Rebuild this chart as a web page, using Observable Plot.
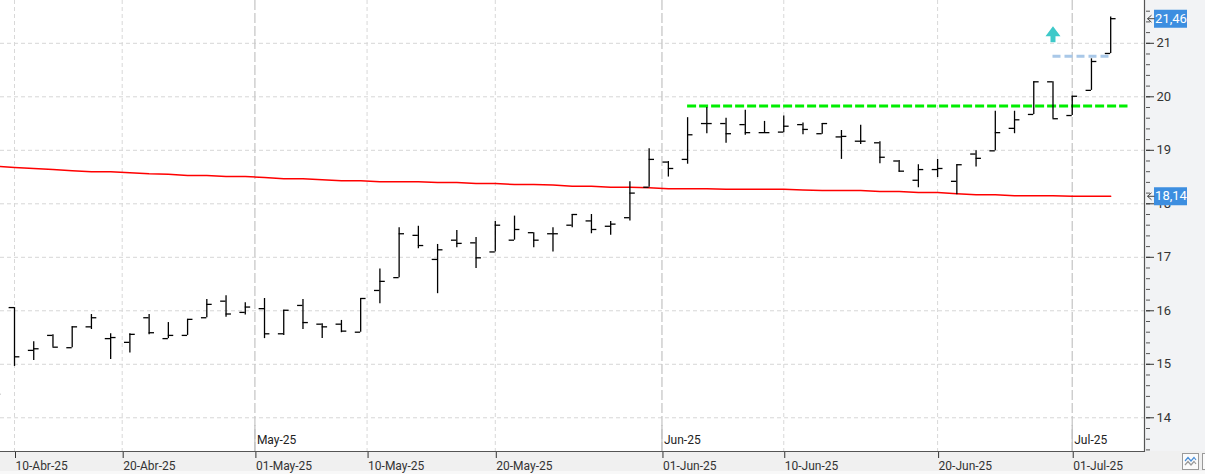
<!DOCTYPE html>
<html><head><meta charset="utf-8">
<script src="https://cdn.jsdelivr.net/npm/d3@7"></script>
<script src="https://cdn.jsdelivr.net/npm/@observablehq/plot@0.6"></script>
<style>
html,body{margin:0;padding:0;background:#fff;overflow:hidden}
#chart svg{display:block}
</style></head><body><div id="chart"></div>
<script>
// ---- data (trading days) ----
const dates = ["2025-04-09","2025-04-10","2025-04-11","2025-04-14","2025-04-15","2025-04-16","2025-04-17","2025-04-22","2025-04-23","2025-04-24","2025-04-25","2025-04-28","2025-04-29","2025-04-30","2025-05-02","2025-05-05","2025-05-06","2025-05-07","2025-05-08","2025-05-09","2025-05-12","2025-05-13","2025-05-14","2025-05-15","2025-05-16","2025-05-19","2025-05-20","2025-05-21","2025-05-22","2025-05-23","2025-05-26","2025-05-27","2025-05-28","2025-05-29","2025-05-30","2025-06-02","2025-06-03","2025-06-04","2025-06-05","2025-06-06","2025-06-09","2025-06-10","2025-06-11","2025-06-12","2025-06-13","2025-06-16","2025-06-17","2025-06-18","2025-06-19","2025-06-20","2025-06-23","2025-06-24","2025-06-25","2025-06-26","2025-06-27","2025-06-30","2025-07-01","2025-07-02","2025-07-03"];
const opens  = [14.44,16.06,15.26,15.54,15.31,15.70,15.48,15.41,15.87,15.48,15.54,15.87,16.18,15.97,16.04,15.57,16.10,15.75,15.75,15.60,16.38,16.62,17.41,16.96,17.32,17.27,17.10,17.32,17.46,17.44,17.60,17.68,17.58,17.74,18.31,18.78,18.83,19.50,19.50,19.48,19.33,19.34,19.48,19.31,19.25,19.17,19.14,18.80,18.44,18.64,18.42,18.93,18.99,19.41,19.67,20.28,19.65,20.12,20.81];
const highs  = [14.44,16.06,15.42,15.55,15.70,15.93,15.57,15.57,15.93,15.78,15.84,16.21,16.28,16.15,16.23,16.01,16.21,15.76,15.82,16.23,16.78,17.55,17.58,17.24,17.50,17.37,17.67,17.77,17.46,17.55,17.80,17.80,17.67,18.41,19.03,18.79,19.61,19.80,19.60,19.75,19.54,19.64,19.51,19.50,19.37,19.47,19.16,18.81,18.73,18.83,18.73,18.99,19.73,19.73,20.28,20.28,20.01,20.71,21.49];
const lows   = [14.44,14.96,15.07,15.32,15.31,15.65,15.09,15.21,15.55,15.48,15.54,15.87,15.88,15.92,15.48,15.54,15.65,15.48,15.59,15.60,16.13,16.62,17.16,16.32,17.18,16.79,17.10,17.32,17.18,17.10,17.55,17.44,17.41,17.68,18.31,18.50,18.74,19.31,19.13,19.28,19.32,19.33,19.29,19.30,18.83,19.11,18.75,18.59,18.30,18.49,18.17,18.69,18.99,19.31,19.67,19.59,19.65,20.12,20.81];
const closes = [14.44,15.14,15.29,15.32,15.70,15.87,15.50,15.56,15.59,15.54,15.84,16.12,15.94,16.07,15.57,16.01,15.78,15.70,15.62,16.23,16.55,17.44,17.22,17.14,17.26,16.99,17.60,17.52,17.32,17.44,17.80,17.52,17.62,18.20,18.83,18.66,19.29,19.50,19.31,19.33,19.33,19.45,19.39,19.50,19.26,19.17,18.87,18.61,18.64,18.66,18.73,18.85,19.33,19.57,20.28,19.59,20.01,20.66,21.46];
const movingAvg = [18.70,18.68,18.66,18.64,18.62,18.60,18.60,18.58,18.56,18.55,18.53,18.53,18.51,18.51,18.49,18.47,18.47,18.45,18.43,18.43,18.41,18.41,18.41,18.40,18.40,18.38,18.38,18.36,18.36,18.35,18.33,18.33,18.31,18.31,18.30,18.28,18.28,18.28,18.27,18.27,18.27,18.27,18.26,18.25,18.25,18.25,18.23,18.23,18.21,18.21,18.19,18.17,18.17,18.15,18.15,18.15,18.14,18.14,18.14];

// ---- axis ticks ----
const tickDates  = ["2025-04-10","2025-04-20","2025-05-01","2025-05-10","2025-05-20","2025-06-01","2025-06-10","2025-06-20","2025-07-01"];
const tickLabels = ["10-Abr-25","20-Abr-25","01-May-25","10-May-25","20-May-25","01-Jun-25","10-Jun-25","20-Jun-25","01-Jul-25"];
const monthDates  = ["2025-05-01","2025-06-01","2025-07-01"];
const monthLabels = ["May-25","Jun-25","Jul-25"];
const yMajorTicks = [14,15,16,17,18,19,20,21];

// ---- annotations ----
const resistanceLevel = 19.83, resistanceStart = "2025-06-03", resistanceExtend = 0.9;
const targetLevel = 20.76, targetStart = "2025-06-30", targetEnd = "2025-07-03";
const arrowDate = "2025-06-30", arrowValue = 21.17;

// ---- build ----
const parse = d3.utcParse("%Y-%m-%d");
const bars = dates.map((d,i)=>({i, date: parse(d), open: opens[i], high: highs[i], low: lows[i], close: closes[i], ma: movingAvg[i]}));
const tms = bars.map(b=>+b.date);
function dateToIndex(s){
  const t = +parse(s);
  for (let k=0;k<tms.length-1;k++){
    if (t>=tms[k] && t<=tms[k+1]) return k + (t-tms[k])/(tms[k+1]-tms[k]);
  }
  return NaN;
}
const xTicks = tickDates.map(dateToIndex);
const labelOf = new Map(xTicks.map((v,k)=>[v, tickLabels[k]]));
const monthX = monthDates.map(dateToIndex);
const dayX = xTicks.filter(v=>!monthX.includes(v));
const minorTicks = d3.range(67, 109).map(k=>k/5);
const last = bars[bars.length-1];
const priceLabels = [{value: last.close}, {value: last.ma}];
const fmt = v => v.toFixed(2).replace(".", ",");
const tk = 0.28;

const arrowSymbol = {draw(ctx){
  ctx.moveTo(0,-8); ctx.lineTo(7.5,2); ctx.lineTo(2.5,2); ctx.lineTo(2.5,8);
  ctx.lineTo(-2.5,8); ctx.lineTo(-2.5,2); ctx.lineTo(-7.5,2); ctx.closePath();
}};
const pointerSymbol = {draw(ctx){
  ctx.moveTo(3,-3.5); ctx.lineTo(-1,0); ctx.lineTo(3,3.5);
  ctx.moveTo(-1,0); ctx.lineTo(6,0);
}};

const lastIdx = bars.length-1;
const chart = Plot.plot({
  width: 1205, height: 474,
  marginLeft: 0, marginRight: 60, marginTop: 0, marginBottom: 23,
  style: {fontFamily: "Roboto, 'Noto Sans', sans-serif", background: "transparent"},
  x: {type: "linear", domain: [0.272, 59.81], axis: null},
  y: {type: "linear", domain: [13.37, 21.80], axis: null},
  marks: [
    Plot.ruleY(yMajorTicks, {stroke: "#d6d6d6", strokeDasharray: "4,3"}),
    Plot.ruleX(dayX, {stroke: "#d8d8d8", strokeDasharray: "4,3"}),
    Plot.ruleX(monthX, {stroke: "#c8c8c8", strokeWidth: 1.3, strokeDasharray: "10,3"}),
    Plot.ruleX(monthX, {stroke: "#c2c2c2", strokeWidth: 1.3, insetTop: 425}),
    Plot.line(bars, {x: "i", y: "ma", stroke: "#ff0000", strokeWidth: 1.5}),
    Plot.ruleY([{y: resistanceLevel, x1: dateToIndex(resistanceStart), x2: lastIdx + resistanceExtend}],
      {y: "y", x1: "x1", x2: "x2", stroke: "#00ee00", strokeWidth: 3, strokeDasharray: "9,3"}),
    Plot.ruleY([{y: targetLevel, x1: dateToIndex(targetStart), x2: dateToIndex(targetEnd)}],
      {y: "y", x1: "x1", x2: "x2", stroke: "#a9c8e8", strokeWidth: 3, strokeDasharray: "8,4"}),
    Plot.dot([{x: dateToIndex(arrowDate), y: arrowValue}], {x: "x", y: "y", r: 8, symbol: arrowSymbol, fill: "#3ec9c9", stroke: "none"}),
    Plot.ruleX(bars, {x: "i", y1: "low", y2: "high", stroke: "#000", strokeWidth: 1.3}),
    Plot.ruleY(bars, {y: "open", x1: d=>d.i - tk, x2: "i", stroke: "#000", strokeWidth: 1.3}),
    Plot.ruleY(bars, {y: "close", x1: "i", x2: d=>d.i + tk, stroke: "#000", strokeWidth: 1.3}),
    Plot.axisX(xTicks, {anchor: "bottom", tickSize: 7, tickPadding: 3, tickFormat: d=>labelOf.get(d), textAnchor: "start", dx: 1, fontSize: 12, color: "#333"}),
    Plot.text(monthX, {x: d=>d, text: (d,k)=>monthLabels[k], frameAnchor: "bottom", dy: -8, dx: 2, textAnchor: "start", fontSize: 12, fill: "#222"}),
    Plot.axisY(minorTicks, {anchor: "right", tickSize: 4, tickFormat: ()=>"", color: "#555"}),
    Plot.axisY(yMajorTicks, {anchor: "right", tickSize: 8, tickPadding: 3, fontSize: 13, color: "#333", tickFormat: d=>String(d)}),
    Plot.ruleY(priceLabels, {y: "value", insetLeft: 1154, insetRight: -42, stroke: "#3d8ee0", strokeWidth: 18}),
    Plot.text(priceLabels, {y: "value", text: d=>fmt(d.value), frameAnchor: "right", textAnchor: "middle", dx: 25.5, fill: "#fff", fontSize: 13}),
    Plot.dot(priceLabels, {y: "value", frameAnchor: "right", dx: 3, r: 3, symbol: pointerSymbol, stroke: "#444", strokeWidth: 1, fill: "none"})
  ]
});

const svg = d3.select(chart);
const bg = svg.insert("g", ":first-child");
bg.append("rect").attr("x",0).attr("y",0).attr("width",1205).attr("height",474).attr("fill","#fff");
bg.append("rect").attr("x",1145).attr("y",0).attr("width",60).attr("height",451).attr("fill","#f2f3f5");
bg.append("rect").attr("x",0).attr("y",451).attr("width",1205).attr("height",23).attr("fill","#f0f0f0");
bg.append("rect").attr("x",0).attr("y",471).attr("width",1205).attr("height",3).attr("fill","#f8f8f8");
svg.append("line").attr("x1",0).attr("x2",1145).attr("y1",451.5).attr("y2",451.5).attr("stroke","#555").attr("stroke-width",1.2);
svg.append("line").attr("x1",1144.5).attr("x2",1144.5).attr("y1",0).attr("y2",451.5).attr("stroke","#555").attr("stroke-width",1.2);
const icon = svg.append("g");
icon.append("rect").attr("x",1182.5).attr("y",453.5).attr("width",16).attr("height",16).attr("fill","#fbfbfb").attr("stroke","#9a9a9a");
icon.append("polyline").attr("points","1185,461 1188,457.5 1191,461 1194,457.5 1196,460").attr("fill","none").attr("stroke","#4a8fd8").attr("stroke-width",1.2);
icon.append("polyline").attr("points","1185,465 1188,461.5 1191,465 1194,461.5 1196,464").attr("fill","none").attr("stroke","#999").attr("stroke-width",1.2);
icon.append("rect").attr("x",1202.5).attr("y",453.5).attr("width",10).attr("height",16).attr("fill","#fbfbfb").attr("stroke","#9a9a9a");

document.getElementById("chart").appendChild(chart);
</script>
</body></html>
